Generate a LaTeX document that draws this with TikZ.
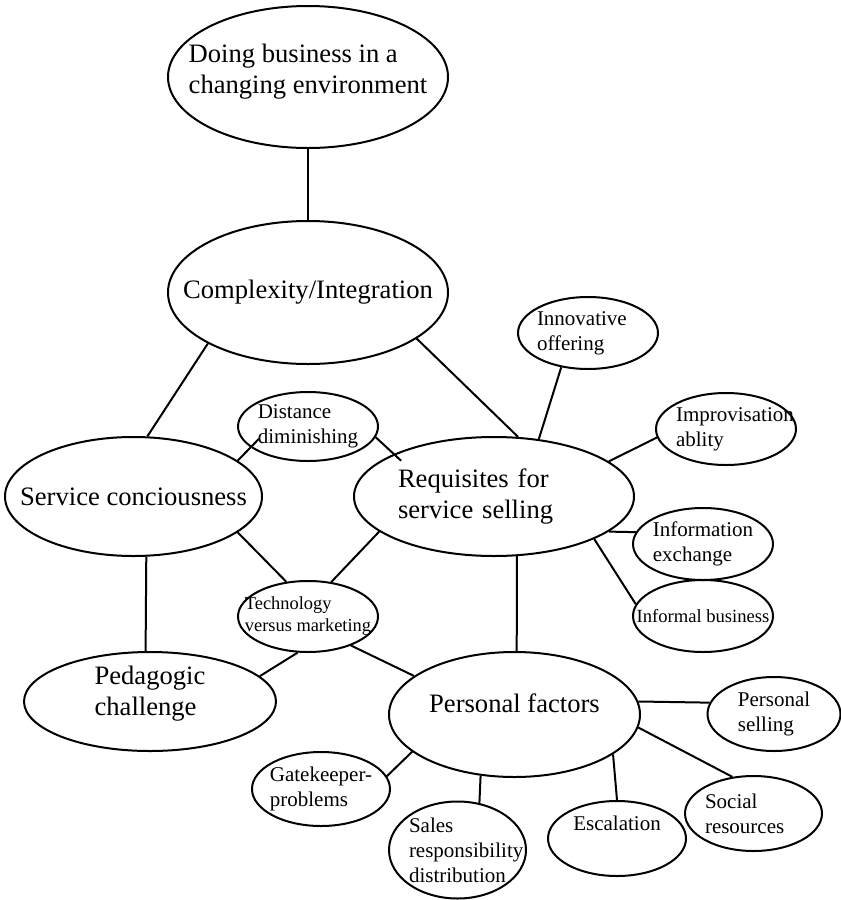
\documentclass[tikz,border=0pt]{standalone}
\usepackage{fontspec}
\setmainfont{Liberation Serif}
\usepackage{tikz}
\usetikzlibrary{shapes.geometric}
\hyphenpenalty=10000

\begin{document}
\begin{tikzpicture}[
    x=0.5pt, y=-0.5pt,
    bigoval/.style={ellipse, draw, line width=1pt, inner sep=-40pt, align=left,
        font=\fontsize{13.3}{15.5}\selectfont},
    smalloval/.style={ellipse, draw, line width=1pt, inner sep=-40pt, align=left,
        minimum width=70pt, minimum height=36pt, font=\fontsize{10.5}{12.5}\selectfont},
    link/.style={line width=1pt}
]
\useasboundingbox (0,0) rectangle (841,900);

\node[bigoval, minimum width=140pt, minimum height=71pt, text depth=8.4pt] (doing) at (308,77) {Doing business in a\\changing environment};
\node[bigoval, minimum width=140pt, minimum height=71.5pt] (complex) at (308,292.5) {Complexity/Integration};
\node[bigoval, minimum width=128.5pt, minimum height=59.5pt] (service) at (133.5,496.5) {Service conciousness};
\node[bigoval, minimum width=140pt, minimum height=59.5pt, text width=96pt] (requisites) at (494,496.5) {Requisites for\\service selling};
\node[bigoval, minimum width=126pt, minimum height=49.5pt, text depth=10.4pt] (pedagogic) at (150,701.5) {Pedagogic\\challenge};
\node[bigoval, minimum width=125.5pt, minimum height=62.5pt, text depth=11.4pt] (personal) at (514.5,714.5) {Personal factors};

\node[smalloval, text width=51pt] (innov) at (588,333) {Innovative\\offering};
\node[smalloval, text width=50pt] (improv) at (726,429) {Improvisation\\ablity};
\node[smalloval, minimum height=34.5pt] (distance) at (308,426.5) {Distance\\diminishing};
\node[smalloval] (infoex) at (703,544) {Information\\exchange};
\node[smalloval, font=\fontsize{9.3}{11}\selectfont] (informal) at (703,616) {Informal business};
\node[smalloval, minimum height=35.5pt, font=\fontsize{9.2}{11}\selectfont] (techno) at (308,616.5) {Technology\\versus marketing};
\node[smalloval, minimum width=66.5pt, minimum height=37pt] (perssell) at (774,714) {Personal\\selling};
\node[smalloval, minimum width=69pt, minimum height=37pt] (gatekeep) at (321,789) {Gatekeeper-\\problems};
\node[smalloval, minimum width=68.5pt, minimum height=48.5pt, text width=48.5pt] (salesresp) at (457.5,850) {Sales\\responsibility\\distribution};
\node[smalloval, minimum width=69pt, minimum height=37.5pt, text depth=15.7pt] (escal) at (617,838.5) {Escalation};
\node[smalloval, minimum width=68.5pt, minimum height=37.5pt, text width=48.5pt] (social) at (753.5,813.5) {Social\\resources};

\draw[link] (doing.south) -- (complex.north);
\draw[link] (complex.207.5) -- (service.77);
\draw[link] (complex.337) -- (requisites.68);
\draw[link] (innov.232) -- (requisites.52);
\draw[link] (improv.187) -- (requisites.17);
\draw[link] (infoex.170) -- (requisites.343);
\draw[link] (informal.170) -- (requisites.337);
\draw[link] (requisites.291) -- (personal.88);
\draw[link, shorten >=-6pt] (service.19) -- (distance.200);
\draw[link, shorten >=-5pt] (distance.351) -- (requisites.157);
\draw[link] (service.341) -- (techno.122);
\draw[link] (requisites.197) -- (techno.56);
\draw[link] (techno.254) -- (pedagogic.13);
\draw[link] (techno.326) -- (personal.159);
\draw[link] (service.282) -- (pedagogic.95);
\draw[link] (personal.6) -- (perssell.170);
\draw[link] (personal.354) -- (social.120);
\draw[link] (personal.338) -- (escal.north);
\draw[link] (personal.241) -- (salesresp.65);
\draw[link] (personal.200) -- (gatekeep.11);

\end{tikzpicture}
\end{document}
